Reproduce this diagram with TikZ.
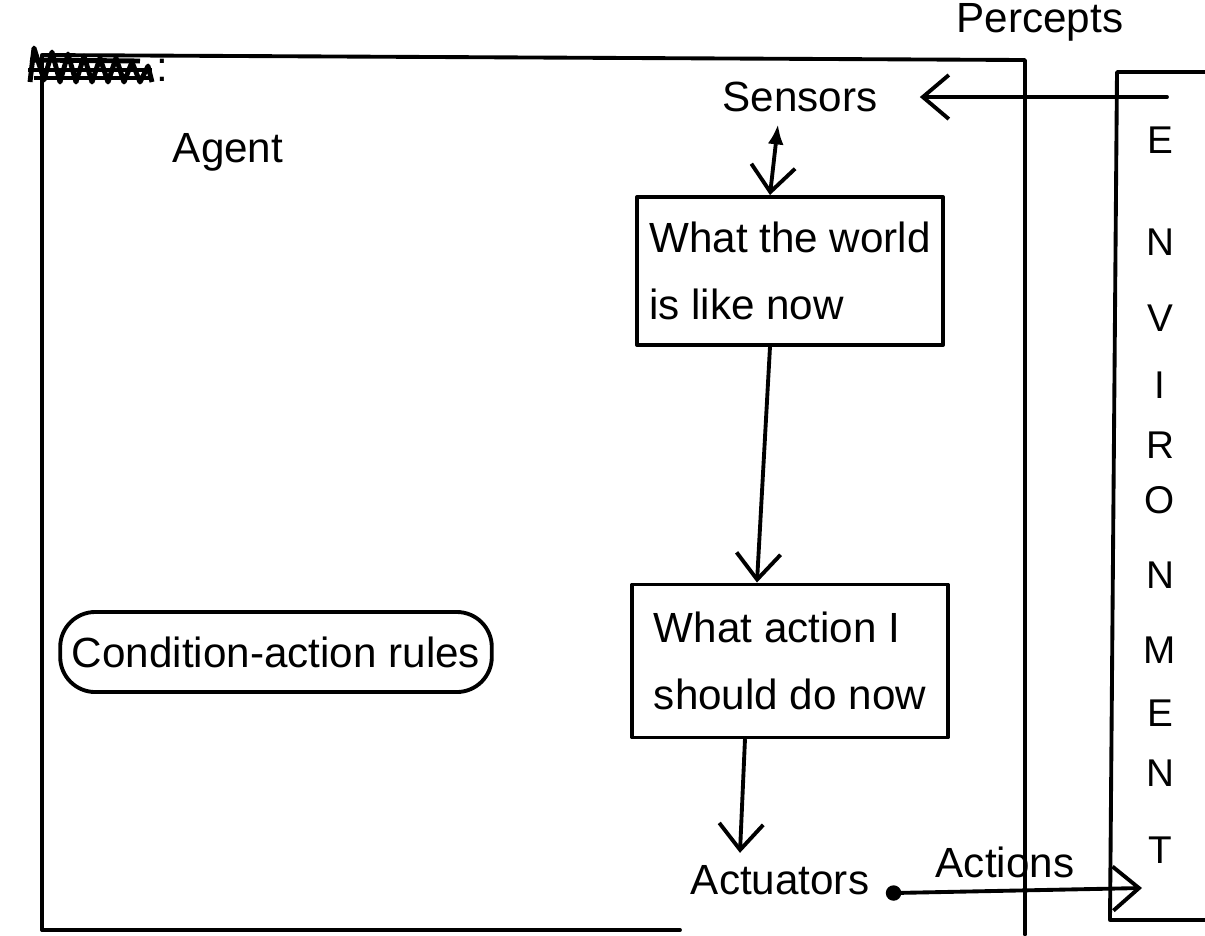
\documentclass[tikz,border=0pt]{standalone}
\usepackage{fontspec}
\setmainfont{Liberation Sans}
\usetikzlibrary{arrows.meta}
\begin{document}
\begin{tikzpicture}[x=0.01cm,y=-0.01cm,
  pen/.style={line width=1.1pt, line cap=round, line join=round},
  tip/.style={-{Straight Barb[length=2.6mm,width=4.4mm]}},
  stepbox/.style={draw, pen, align=left, inner sep=0pt,
    minimum width=3.06cm, minimum height=1.48cm,
    font=\fontsize{12}{19}\selectfont},
  lbl/.style={font=\fontsize{12}{15}\selectfont},
  letter/.style={font=\fontsize{11}{13}\selectfont}]
\path[use as bounding box] (0,0) rectangle (1205,935);

% agent frame
\draw[pen] (42,930) -- (42,55) -- (1025,60) -- (1025,935);
\draw[pen] (42,930) -- (680,930);

% environment frame
\draw[pen] (1205,72) -- (1117,72) -- (1110,920) -- (1205,920);

% struck-out heading
\draw[line width=1.4pt, line join=round]
  (30,82)--(34,48)--(44,80)--(52,52)--(60,82)--(68,54)--(76,82)--(84,56)--(92,82)
  --(100,58)--(108,82)--(116,58)--(124,82)--(132,62)--(140,82)--(148,66)--(152,82);
\draw[line width=1.4pt] (28,70) -- (152,70);
\draw[line width=1.4pt] (30,60) -- (140,61);
\draw[line width=1.4pt] (34,78) -- (150,78);
\node[lbl] (colon) at (162,70) {:};

% labels
\node[lbl] (agent) at (228,152) {Agent};
\node[lbl] (sensors) at (800,97) {Sensors};
\node[lbl] (actuators) at (780,880) {Actuators};
\node[lbl] (percepts) at (1040,22) {Percepts};
\node[lbl] (actions) at (1005,862) {Actions};

% processing boxes
\node[stepbox] (world) at (790,271) {What the world\\is like now};
\node[stepbox, minimum width=3.15cm, minimum height=1.53cm] (decide) at (790,661)
  {What action I\\should do now};
\node[draw, pen, rounded corners=0.35cm, minimum width=4.28cm, minimum height=0.8cm, lbl]
  (rules) at (276,652) {Condition-action rules};

% environment lettering
\foreach \ch/\yy [count=\i] in {E/140,N/242,V/318,I/385,R/445,O/500,N/575,M/650,E/713,N/773,T/850}
  \node[letter] (env\i) at (1160,\yy) {\ch};

% connectors
\coordinate (envout) at (1167,97);
\coordinate (envin) at (1142,888);
\draw[pen, tip, shorten >=0.3cm] (envout) -- (sensors.east);
\draw[pen, {Latex[length=2mm,width=1.6mm]}-{Straight Barb[length=2.6mm,width=4.4mm]}]
  ([xshift=-0.22cm]sensors.south) -- ([xshift=-0.2cm]world.north);
\draw[pen, tip] ([xshift=-0.2cm]world.south) -- ([xshift=-0.33cm]decide.north);
\draw[pen, tip] ([xshift=-0.45cm]decide.south) -- ([xshift=-0.4cm]actuators.north);
\fill ([xshift=0.12cm,yshift=-0.13cm]actuators.east) circle (2.2pt);
\draw[pen, tip] ([xshift=0.12cm,yshift=-0.13cm]actuators.east) -- (envin);
\end{tikzpicture}
\end{document}
